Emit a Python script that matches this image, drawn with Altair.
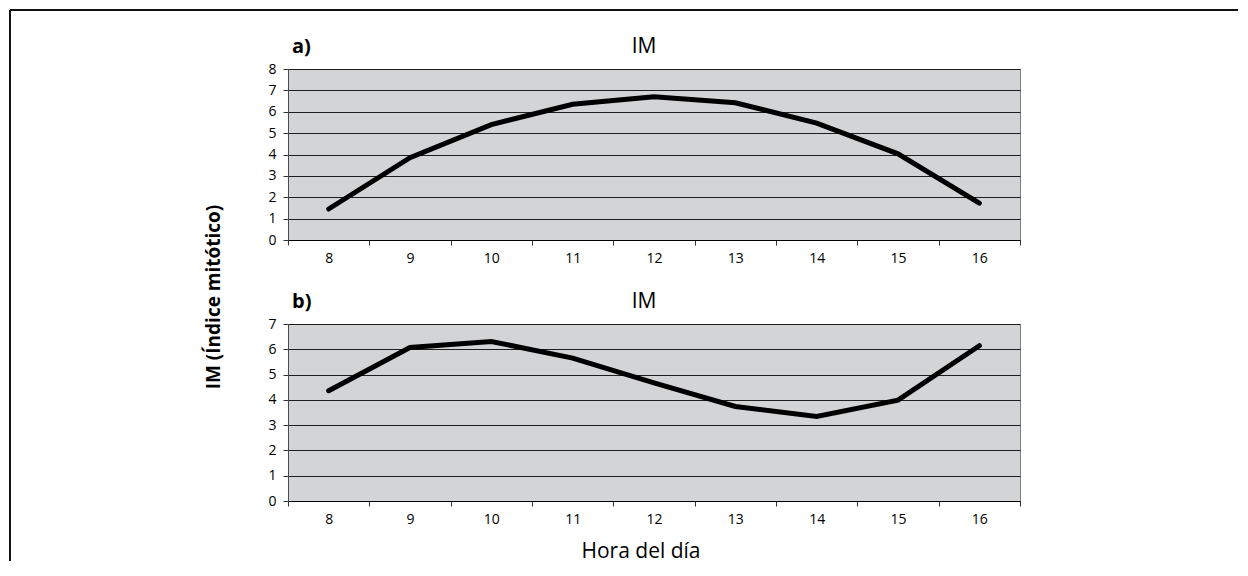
import altair as alt
import pandas as pd

hours = [8, 9, 10, 11, 12, 13, 14, 15, 16]
im_a = [1.45, 3.85, 5.40, 6.35, 6.70, 6.42, 5.47, 4.03, 1.72]
im_b = [4.36, 6.07, 6.31, 5.65, 4.67, 3.74, 3.34, 3.99, 6.14]

FONT = "Open Sans"
W = 732
HA = 171
HB = 177
one = pd.DataFrame({"k": [0]})
VIEW = alt.ViewBackground(fill="#d3d4d6", stroke="#808080", strokeWidth=1)


def text_mark(txt, x, y, size, weight="normal", align="center", angle=0, baseline="alphabetic"):
    return alt.Chart(one).mark_text(
        text=txt, align=align, baseline=baseline, fontSize=size, fontWeight=weight,
        font=FONT, color="black", angle=angle
    ).encode(x=alt.value(x), y=alt.value(y))


def panel(values, ymax, h, letter, extra):
    df = pd.DataFrame({"hora": hours, "im": values})
    x = alt.X(
        "hora:O",
        sort=hours,
        scale=alt.Scale(type="band", paddingInner=0, paddingOuter=0),
        axis=alt.Axis(title=None, labelAngle=0, tickBand="extent", grid=False,
                      domainColor="#000000", labelPadding=6,
                      labelFont=FONT, labelFontSize=14, labelColor="#000000",
                      tickColor="#333333", tickSize=5),
    )
    y = alt.Y(
        "im:Q",
        scale=alt.Scale(domain=[0, ymax], nice=False, zero=True),
        axis=alt.Axis(title=None, values=list(range(ymax + 1)), grid=True,
                      gridColor="#1e1e1e", gridWidth=1, domainColor="#4a4a4a",
                      labelPadding=7, labelFont=FONT, labelFontSize=14,
                      labelColor="#000000", tickColor="#333333", tickSize=5),
    )
    line = alt.Chart(df).mark_line(
        color="black", strokeWidth=5, strokeCap="round", strokeJoin="miter"
    ).encode(x=x, y=y)
    lt = text_mark(letter, 4, -16, 20, weight="bold", align="left")
    tt = text_mark("IM", 356, -16, 21)
    return alt.layer(line, lt, tt, *extra).properties(width=W, height=h, view=VIEW)


border_v = alt.Chart(one).mark_rule(color="#111111", strokeWidth=2).encode(
    x=alt.value(-278), y=alt.value(-59), y2=alt.value(492)
)
border_h = alt.Chart(one).mark_rule(color="#111111", strokeWidth=2).encode(
    x=alt.value(-278), x2=alt.value(950), y=alt.value(-59)
)
ytitle = text_mark("IM (Índice mitótico)", -74, 228, 19, weight="bold",
                   angle=270, baseline="middle")
xtitle = text_mark("Hora del día", 353, 234, 21)

top = panel(im_a, 8, HA, "a)", [border_v, border_h, ytitle])
bottom = panel(im_b, 7, HB, "b)", [xtitle])

chart = alt.vconcat(top, bottom, spacing=84, bounds="flush").properties(
    padding=0, background="white"
).configure_view(
    fill="#d3d4d6", stroke="#808080", strokeWidth=1
).configure_axis(
    labelFont=FONT, labelFontSize=14, labelColor="#000000",
    tickColor="#333333", tickSize=5, tickWidth=1, domainWidth=1
)

chart.save("out.html", embed_options={"renderer": "svg", "actions": False})
